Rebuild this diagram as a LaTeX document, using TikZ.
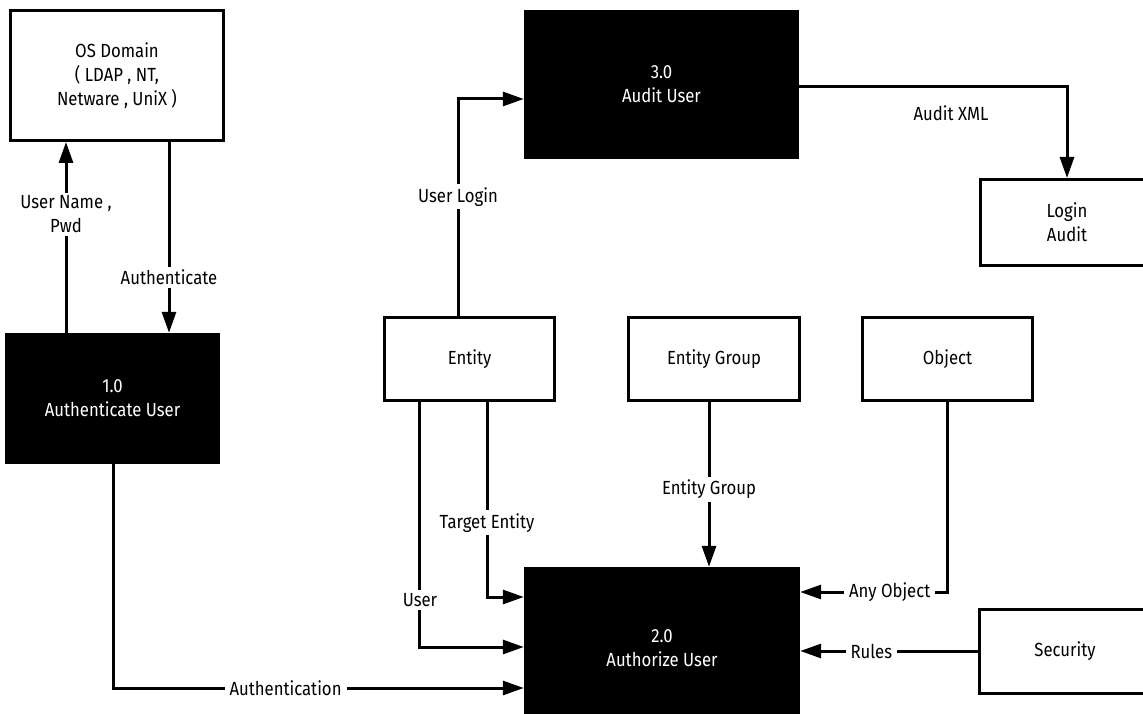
\documentclass[tikz,border=0pt]{standalone}
\usepackage{fontspec}
\setmainfont{Fira Sans}[FakeStretch=0.88]
\usetikzlibrary{arrows.meta,calc}
\tikzset{
  lbl/.style={font=\fontsize{19}{24}\selectfont, align=center},
  wbox/.style={draw=black, line width=3pt, fill=white, lbl, inner sep=0pt},
  bbox/.style={fill=black, text=white, lbl, inner sep=0pt},
  flow/.style={line width=3pt, -{Triangle[length=21pt,width=14pt]}},
  onl/.style={lbl, fill=white, inner xsep=5pt, inner ysep=3pt},
}
\begin{document}
\begin{tikzpicture}[x=1pt,y=-1pt]
\useasboundingbox (0,0) rectangle (1143,714);
% boxes
\node[wbox, minimum width=213pt, minimum height=130pt] (osd) at (117,75.5) {OS Domain\\( LDAP , NT,\\Netware , UniX )};
\node[bbox, minimum width=275pt, minimum height=149pt] (au) at (661.5,84.5) {3.0\\Audit User};
\node[wbox, minimum width=173pt, minimum height=86pt] (la) at (1067,222.5) {Login\\Audit};
\node[wbox, minimum width=170pt, minimum height=83pt] (ent) at (469.5,359) {Entity};
\node[wbox, minimum width=171pt, minimum height=83pt] (eg) at (714,359) {Entity Group};
\node[wbox, minimum width=170pt, minimum height=83pt] (obj) at (947.5,359) {Object};
\node[bbox, minimum width=215pt, minimum height=131pt] (a1) at (112.5,398.5) {1.0\\Authenticate User};
\node[bbox, minimum width=276pt, minimum height=162pt] (a2) at (662,648) {2.0\\Authorize User};
\node[wbox, minimum width=171pt, minimum height=84pt] (sec) at (1065,651.5) {Security};
% helper coordinates
\coordinate (xun) at (66,0);
\coordinate (xau) at (169,0);
\coordinate (xan) at (113,688);
\coordinate (xus) at (419,647);
\coordinate (xte) at (487,597);
\coordinate (xeg) at (709,0);
\coordinate (xob) at (947,592);
\coordinate (yru) at (0,651);
\coordinate (xul) at (458,99);
\coordinate (xax) at (1067,87);
% connectors
\draw[flow] (a1.north -| xun) -- node[onl, pos=0.62] {User Name ,\\Pwd} (osd.south -| xun);
\draw[flow] (osd.south -| xau) -- node[onl, pos=0.71] {Authenticate} (a1.north -| xau);
\draw[flow] (a1.south -| xan) -- (xan) -- node[onl, pos=0.42] {Authentication} (a2.west |- xan);
\draw[flow] (ent.south -| xus) -- (xus) -- (a2.west |- xus);
\node[onl] (lus) at (420,600) {User};
\draw[flow] (ent.south -| xte) -- node[onl, pos=0.62] {Target Entity} (xte) -- (a2.west |- xte);
\draw[flow] (eg.south -| xeg) -- node[onl, pos=0.53] {Entity Group} (a2.north -| xeg);
\draw[flow] (obj.south -| xob) -- (xob) -- node[onl, pos=0.39] {Any Object} (a2.east |- xob);
\draw[flow] (sec.west |- yru) -- node[onl, pos=0.6] {Rules} (a2.east |- yru);
\draw[flow] (ent.north -| xul) -- node[onl, pos=0.55] {User Login} (xul) -- (au.west |- xul);
\draw[flow] (au.east |- xax) -- (xax) -- (la.north -| xax);
\node[lbl] (lax) at (951,113) {Audit XML};
\end{tikzpicture}
\end{document}
